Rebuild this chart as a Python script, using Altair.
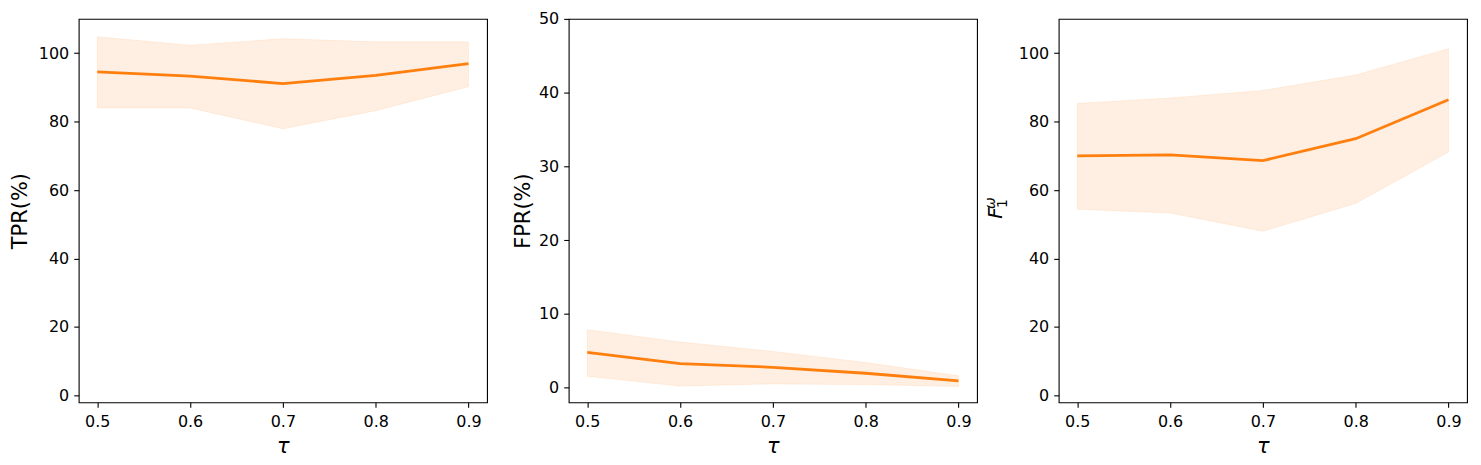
import altair as alt
import pandas as pd

tau = [0.5, 0.6, 0.7, 0.8, 0.9]

tpr_mean = [94.5, 93.3, 91.1, 93.5, 96.9]
tpr_hi = [104.8, 102.3, 104.2, 103.3, 103.3]
tpr_lo = [84.0, 84.0, 77.9, 83.2, 90.2]

fpr_mean = [4.78, 3.25, 2.75, 1.94, 0.9]
fpr_hi = [7.85, 6.18, 4.9, 3.4, 1.6]
fpr_lo = [1.53, 0.2, 0.5, 0.4, 0.15]

f1_mean = [70.0, 70.3, 68.6, 75.0, 86.4]
f1_hi = [85.3, 86.9, 89.1, 93.6, 101.3]
f1_lo = [54.4, 53.3, 48.0, 56.1, 71.1]

ticks_100 = [0, 20, 40, 60, 80, 100]
ticks_50 = [0, 10, 20, 30, 40, 50]

ORANGE = "#ff7f0e"
FONT = "DejaVu Sans"
W, H = 410, 385


def panel(mean, lo, hi, ydomain, yticks, ytitle, title_x):
    df = pd.DataFrame({"tau": tau, "mean": mean, "lo": lo, "hi": hi})
    xenc = alt.X(
        "tau:Q",
        scale=alt.Scale(domain=[0.48, 0.92], nice=False, zero=False),
        axis=alt.Axis(
            values=tau, format=".1f", title="τ", titleFontStyle="italic",
            titleY=50, titleBaseline="alphabetic", labelPadding=6,
        ),
    )
    yaxis_kwargs = dict(values=yticks, format="d", labelPadding=5)
    if ytitle is not None:
        yaxis_kwargs.update(title=ytitle, titleX=title_x, titleBaseline="alphabetic")
    else:
        yaxis_kwargs.update(title=None)
    yenc = alt.Y(
        "lo:Q",
        scale=alt.Scale(domain=ydomain, nice=False, zero=False),
        axis=alt.Axis(**yaxis_kwargs),
    )
    band = alt.Chart(df).mark_area(
        color=ORANGE, fillOpacity=0.12, stroke=ORANGE, strokeOpacity=0.1, strokeWidth=1
    ).encode(x=xenc, y=yenc, y2="hi:Q")
    line = alt.Chart(df).mark_line(color=ORANGE, strokeWidth=2.8).encode(
        x="tau:Q", y="mean:Q"
    )
    return band + line


p1 = panel(tpr_mean, tpr_lo, tpr_hi, [-2, 110], ticks_100, "TPR(%)", -52.5)
p2 = panel(fpr_mean, fpr_lo, fpr_hi, [-2, 50], ticks_50, "FPR(%)", -39)
p3 = panel(f1_mean, f1_lo, f1_hi, [-2, 110], ticks_100, None, 0)

dummy = pd.DataFrame({"_": [0]})
t_F = alt.Chart(dummy).mark_text(
    text="F", angle=270, align="center", baseline="alphabetic",
    font=FONT, fontSize=20, fontStyle="italic", color="black",
).encode(x=alt.value(-57), y=alt.value(195))
t_sub = alt.Chart(dummy).mark_text(
    text="1", angle=270, align="center", baseline="alphabetic",
    font=FONT, fontSize=14, color="black",
).encode(x=alt.value(-52.3), y=alt.value(185.5))
t_sup = alt.Chart(dummy).mark_text(
    text="ω", angle=270, align="center", baseline="alphabetic",
    font=FONT, fontSize=14, fontStyle="italic", color="black",
).encode(x=alt.value(-64.3), y=alt.value(185.0))

p3 = alt.layer(p3, t_F, t_sub, t_sup)

chart = alt.hconcat(
    p1.properties(width=W, height=H),
    p2.properties(width=W, height=H),
    p3.properties(width=W, height=H),
    spacing=82,
    bounds="flush",
).properties(
    padding={"left": 0, "top": 1, "right": 5, "bottom": 5}
).configure(
    font=FONT,
).configure_view(
    stroke="black", strokeWidth=1.1
).configure_axis(
    domain=False, grid=False,
    labelFont=FONT, labelFontSize=16, labelColor="black",
    tickColor="black", tickSize=5, tickWidth=1.1,
    titleFont=FONT, titleFontSize=21, titleFontWeight="normal", titleColor="black",
)

chart.save("out.html", embed_options={"renderer": "svg", "actions": False})
